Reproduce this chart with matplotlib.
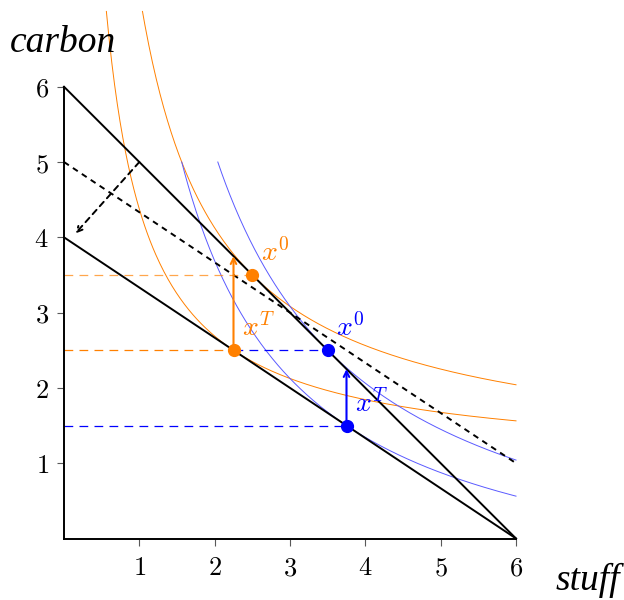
#!/usr/bin/env python3
"""
Carbon tax diagram - budget lines, indifference curves and choices of two consumers
"""

import numpy as np
import matplotlib.pyplot as plt

plt.rcParams['mathtext.fontset'] = 'cm'
plt.rcParams['font.family'] = 'serif'

ORANGE = '#ff8000'
BLUE = '#0000ff'

# Budget lines: (x0, y0) -> (x1, y1)
budget_before = [(0, 6), (6, 0)]
budget_after = [(0, 4), (6, 0)]
budget_comp = [(0, 5), (6, 1)]          # dashed, compensated
shift_arrow = [(1, 5), (0.15, 4.05)]    # dashed arrow

# Indifference curves x * (y - shift) = level, drawn for x from level/6 to 6
orange_shift = 1.0
orange_levels = [6.25, 3.375]
blue_shift = -1.0
blue_levels = [12.25, 9.375]

# Chosen bundles
orange_x0 = (2.5, 3.5)
orange_xT = (2.25, 2.5)
blue_x0 = (3.5, 2.5)
blue_xT = (3.75, 1.5)
orange_arrow_top = 3.75
blue_arrow_top = 2.25

ticks = [1, 2, 3, 4, 5, 6]


def curve(level, shift):
    x = np.linspace(level / 6, 6, 300)
    return x, level / x + shift


fig = plt.figure(figsize=(6.24, 6.0), dpi=100)
ax = fig.add_axes([64 / 624, 61.5 / 600, 452 / 624, 534.6 / 600])
ax.set_xlim(0, 6)
ax.set_ylim(0, 7.1)

# indifference curves
for lv in orange_levels:
    x, y = curve(lv, orange_shift)
    ax.plot(x, y, color=ORANGE, lw=0.7, clip_on=False)
for lv in blue_levels:
    x, y = curve(lv, blue_shift)
    ax.plot(x, y, color='#5a5aff', lw=0.7, clip_on=False)

# budget lines
for (a, b) in [budget_before, budget_after]:
    ax.plot([a[0], b[0]], [a[1], b[1]], color='black', lw=1.4, clip_on=False)
(a, b) = budget_comp
ax.plot([a[0], b[0]], [a[1], b[1]], color='black', lw=1.4, dashes=(3, 2.5))
ax.annotate('', xy=shift_arrow[1], xytext=shift_arrow[0],
            arrowprops=dict(arrowstyle='->', color='black', lw=1.4,
                            linestyle=(0, (3, 2.5)), shrinkA=0, shrinkB=0))

# dashed guide lines
dash = dict(lw=0.9, dashes=(7, 5))
ax.plot([0, orange_x0[0]], [orange_x0[1]] * 2, color=ORANGE, alpha=0.7, **dash)
ax.plot([0, orange_xT[0]], [orange_xT[1]] * 2, color=ORANGE, **dash)
ax.plot([orange_xT[0], blue_x0[0]], [blue_x0[1]] * 2, color=BLUE, **dash)
ax.plot([0, blue_xT[0]], [blue_xT[1]] * 2, color=BLUE, **dash)

# arrows from new choice
ax.annotate('', xy=(orange_xT[0], orange_arrow_top), xytext=orange_xT,
            arrowprops=dict(arrowstyle='->', color=ORANGE, lw=1.5, shrinkA=0, shrinkB=0))
ax.annotate('', xy=(blue_xT[0], blue_arrow_top), xytext=blue_xT,
            arrowprops=dict(arrowstyle='->', color=BLUE, lw=1.5, shrinkA=0, shrinkB=0))

# points and labels
for pt, col, lab in [(orange_x0, ORANGE, '$x^0$'), (orange_xT, ORANGE, '$x^T$'),
                     (blue_x0, BLUE, '$x^0$'), (blue_xT, BLUE, '$x^T$')]:
    ax.plot(*pt, 'o', color=col, ms=8.5, zorder=5)
    ax.annotate(lab, pt, xytext=(6, 16), textcoords='offset points',
                color=col, fontsize=20, va='center', ha='left')

# axes styling
for side in ['top', 'right']:
    ax.spines[side].set_visible(False)
ax.spines['left'].set_bounds(0, 6)
for side in ['left', 'bottom']:
    ax.spines[side].set_linewidth(1.4)
ax.set_xticks(ticks)
ax.set_yticks(ticks)
ax.set_xticklabels([f'${t}$' for t in ticks])
ax.set_yticklabels([f'${t}$' for t in ticks])
ax.tick_params(axis='both', length=5, width=0.8, color='0.35', labelsize=19)
ax.tick_params(axis='x', pad=7)
ax.tick_params(axis='y', pad=6)

axis_font = dict(family='Liberation Serif', style='italic', fontsize=27,
                 ha='center', va='center')
fig.text(63 / 624, 1 - 43 / 600, 'carbon', **axis_font)
fig.text(588 / 624, 1 - 580 / 600, 'stuff', **axis_font)

plt.savefig('out.png', dpi=100)
